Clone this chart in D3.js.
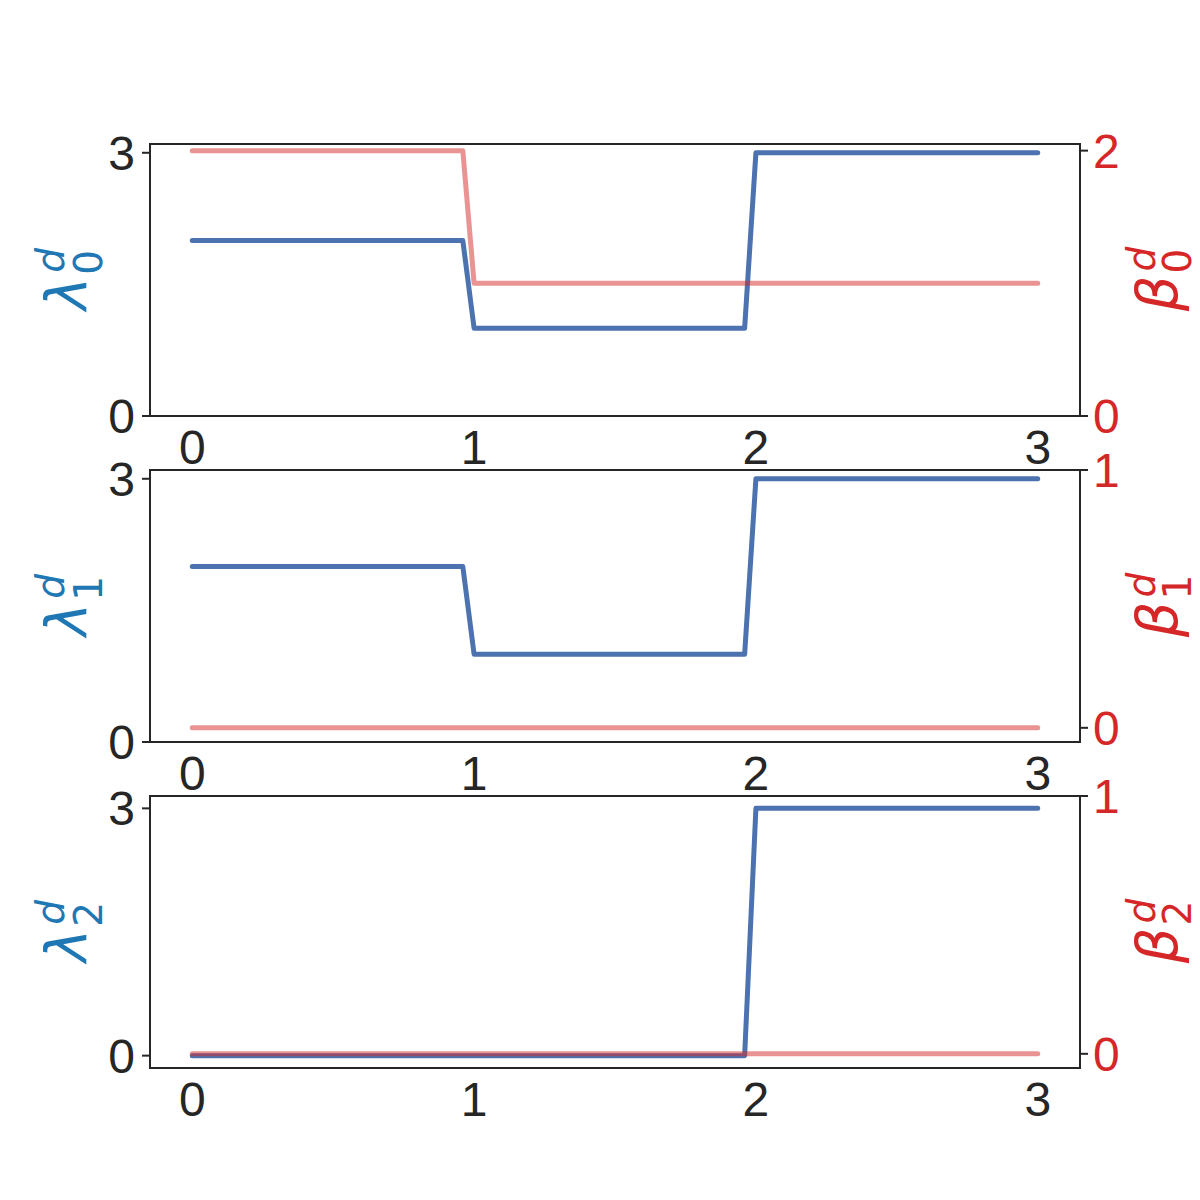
<!DOCTYPE html>
<html>
<head>
<meta charset="utf-8">
<script src="https://cdn.jsdelivr.net/npm/d3@7"></script>
<style>
  html, body { margin: 0; padding: 0; background: #ffffff; }
</style>
</head>
<body>
<script>
// ---- Data ----
const xValues = [0, 0.96, 1.0, 1.96, 2.0, 3.0];
const lambda0 = [2, 2, 1, 1, 3, 3];
const beta0   = [2, 2, 1, 1, 1, 1];
const lambda1 = [2, 2, 1, 1, 3, 3];
const beta1   = [0, 0, 0, 0, 0, 0];
const lambda2 = [0, 0, 0, 0, 3, 3];
const beta2   = [0, 0, 0, 0, 0, 0];
const xTicks = [0, 1, 2, 3];
const lambdaTicks = [0, 3];
const betaTicks0 = [0, 2];
const betaTicks1 = [0, 1];
const betaTicks2 = [0, 1];
const subIndices = ["0", "1", "2"];

const panels = [
  { lam: lambda0, beta: beta0, lamDomain: [0, 3.1], betaDomain: [0, 2.05], betaTicks: betaTicks0 },
  { lam: lambda1, beta: beta1, lamDomain: [0, 3.1], betaDomain: [-0.055, 1], betaTicks: betaTicks1 },
  { lam: lambda2, beta: beta2, lamDomain: [-0.15, 3.15], betaDomain: [-0.055, 1], betaTicks: betaTicks2 }
];

const W = 1200, H = 1200;
const left = 150, right = 1080;
const panelTops = [144, 470, 796];
const panelH = 272;
const dark = "#262626";
const blueLine = "#4C72B0";
const redLine = "#d62728";
const blueLabel = "#1f77b4";
const redLabel = "#d62728";
const tickFont = "'Liberation Sans', Arial, sans-serif";
const tickSize = 48;
const mathFont = "'DejaVu Sans', sans-serif";

const svg = d3.select("body").append("svg")
  .attr("width", W).attr("height", H)
  .style("display", "block");

const x = d3.scaleLinear().domain([-0.15, 3.15]).range([left, right]);

function mathLabel(parent, cx, cy, sym, idx, color, supOff, subOff) {
  const g = parent.append("g").attr("transform", `translate(${cx},${cy}) rotate(-90)`);
  const main = g.append("text").text(sym)
    .attr("font-family", mathFont).attr("font-style", "italic")
    .attr("font-size", 56).attr("fill", color);
  const sup = g.append("text").text("d")
    .attr("font-family", mathFont).attr("font-style", "italic")
    .attr("font-size", 39).attr("fill", color);
  const sub = g.append("text").text(idx)
    .attr("font-family", mathFont)
    .attr("font-size", 39).attr("fill", color);
  const wm = main.node().getComputedTextLength();
  const ws = Math.max(sup.node().getComputedTextLength(), sub.node().getComputedTextLength());
  const total = wm + 2 + ws;
  const x0 = -total / 2;
  main.attr("x", x0).attr("y", 0);
  sup.attr("x", x0 + wm + 4).attr("y", supOff);
  sub.attr("x", x0 + wm + 2).attr("y", subOff);
}

panels.forEach((p, i) => {
  const top = panelTops[i];
  const bottom = top + panelH;
  const yL = d3.scaleLinear().domain(p.lamDomain).range([bottom, top]);
  const yR = d3.scaleLinear().domain(p.betaDomain).range([bottom, top]);
  const g = svg.append("g");

  // blue line (left axis)
  const lineL = d3.line().x((d, k) => x(xValues[k])).y(d => yL(d));
  g.append("path").datum(p.lam)
    .attr("d", lineL)
    .attr("fill", "none").attr("stroke", blueLine).attr("stroke-width", 5)
    .attr("stroke-linecap", "round").attr("stroke-linejoin", "round");

  // red line (right axis, drawn on top with alpha)
  const lineR = d3.line().x((d, k) => x(xValues[k])).y(d => yR(d));
  g.append("path").datum(p.beta)
    .attr("d", lineR)
    .attr("fill", "none").attr("stroke", redLine).attr("stroke-opacity", 0.5)
    .attr("stroke-width", 5)
    .attr("stroke-linecap", "round").attr("stroke-linejoin", "round");

  // frame
  g.append("rect")
    .attr("x", left).attr("y", top)
    .attr("width", right - left).attr("height", panelH)
    .attr("fill", "none").attr("stroke", dark).attr("stroke-width", 2);

  // left ticks
  lambdaTicks.forEach(t => {
    const yy = yL(t);
    g.append("line").attr("x1", left - 8).attr("x2", left)
      .attr("y1", yy).attr("y2", yy).attr("stroke", dark).attr("stroke-width", 2);
    g.append("text").text(t)
      .attr("x", 135).attr("y", yy + 17)
      .attr("text-anchor", "end")
      .attr("font-family", tickFont).attr("font-size", tickSize).attr("fill", dark);
  });

  // right ticks
  p.betaTicks.forEach(t => {
    const yy = yR(t);
    g.append("line").attr("x1", right).attr("x2", right + 8)
      .attr("y1", yy).attr("y2", yy).attr("stroke", dark).attr("stroke-width", 2);
    g.append("text").text(t)
      .attr("x", 1093).attr("y", yy + 17)
      .attr("text-anchor", "start")
      .attr("font-family", tickFont).attr("font-size", tickSize).attr("fill", redLabel);
  });

  // x tick labels
  xTicks.forEach(t => {
    g.append("text").text(t)
      .attr("x", x(t)).attr("y", bottom + 48)
      .attr("text-anchor", "middle")
      .attr("font-family", tickFont).attr("font-size", tickSize).attr("fill", dark);
  });

  const cy = top + panelH / 2;
  mathLabel(g, 86, cy, "λ", subIndices[i], blueLabel, -22, 16);
  mathLabel(g, 1177, cy, "β", subIndices[i], redLabel, -22, 14);
});
</script>
</body>
</html>
